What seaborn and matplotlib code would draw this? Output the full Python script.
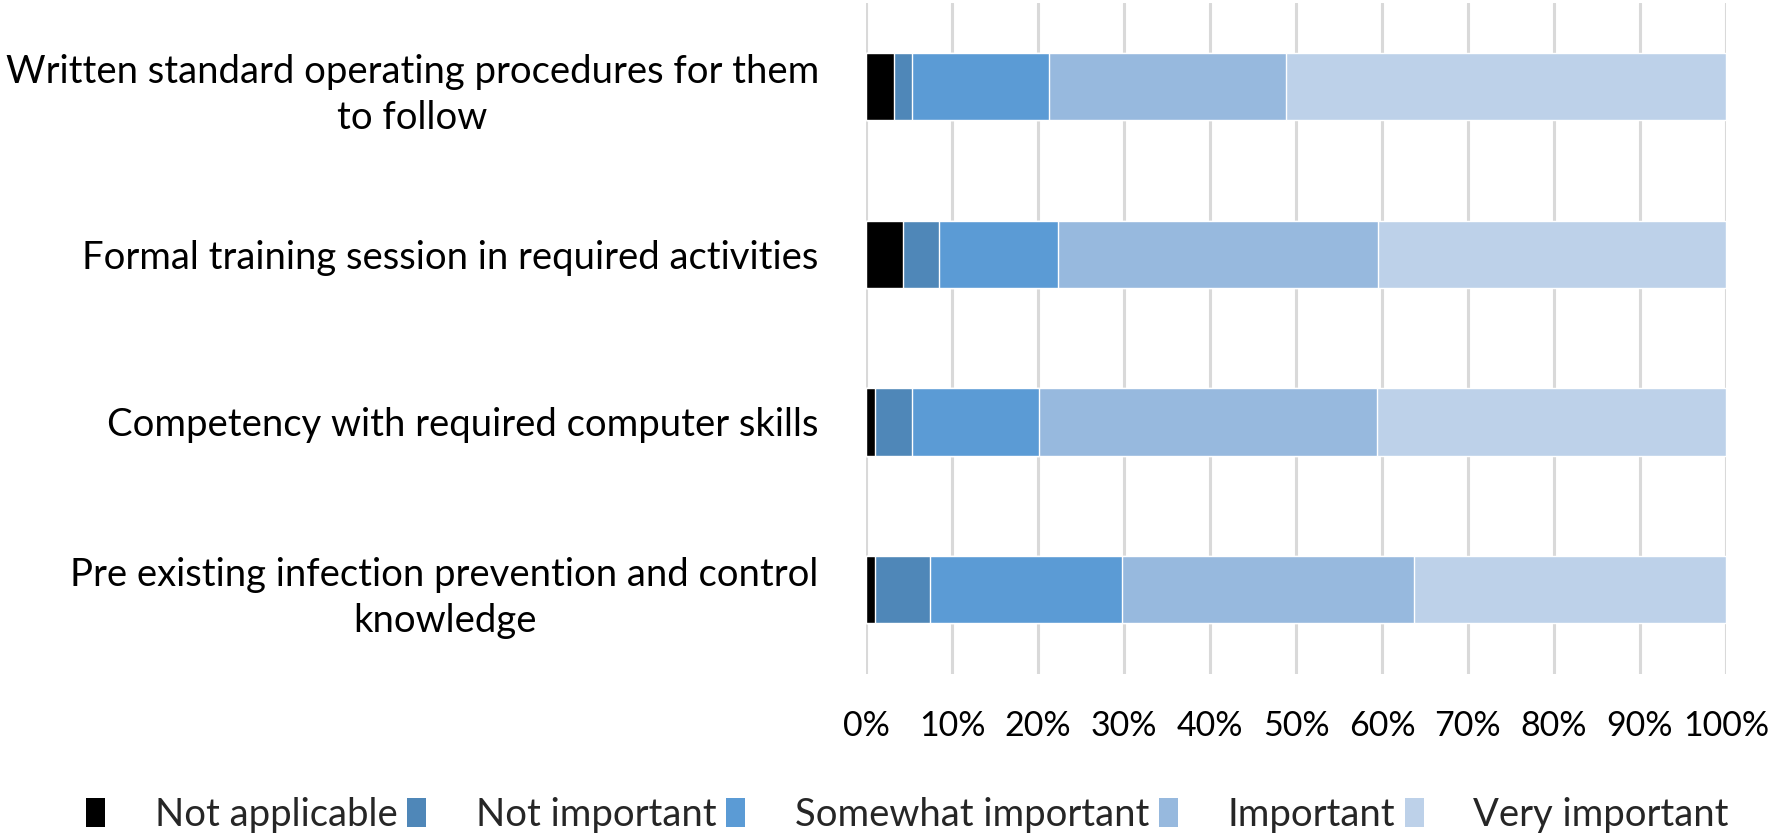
import pandas as pd
import seaborn as sns
import matplotlib.pyplot as plt
from matplotlib.patches import Patch
from matplotlib.ticker import PercentFormatter

# --- Data (percent of respondents) ---
ITEMS = [
    "Written standard operating procedures for them\nto follow",
    "Formal training session in required activities",
    "Competency with required computer skills",
    "Pre existing infection prevention and control\nknowledge",
]
LEVELS = ["Not applicable", "Not important", "Somewhat important",
          "Important", "Very important"]
NOT_APPLICABLE = [3.3, 4.3, 1.0, 1.0]
NOT_IMPORTANT = [2.1, 4.2, 4.3, 6.5]
SOMEWHAT_IMPORTANT = [15.9, 13.8, 14.8, 22.3]
IMPORTANT = [27.5, 37.2, 39.3, 33.9]
VERY_IMPORTANT = [51.2, 40.5, 40.6, 36.3]
X_TICKS = list(range(0, 101, 10))

COLORS = ["#000000", "#4f87b8", "#5b9bd5", "#97b9de", "#bdd1e9"]
FONT = "Lato"
FS_LABEL = 27.5
FS_TICK = 24.5

df = pd.DataFrame({
    "item": ITEMS,
    LEVELS[0]: NOT_APPLICABLE,
    LEVELS[1]: NOT_IMPORTANT,
    LEVELS[2]: SOMEWHAT_IMPORTANT,
    LEVELS[3]: IMPORTANT,
    LEVELS[4]: VERY_IMPORTANT,
})
cum = df[LEVELS].cumsum(axis=1)
cum["item"] = df["item"]

sns.set_theme(style="white")
plt.rcParams["font.family"] = [FONT, "DejaVu Sans"]

fig = plt.figure(figsize=(17.76, 8.4), dpi=100)
ax = fig.add_axes([0.4876, 0.198, 0.4842, 0.799])

# stacked bars: draw cumulative totals from the widest down
for level, color in reversed(list(zip(LEVELS, COLORS))):
    sns.barplot(data=cum, x=level, y="item", orient="h", color=color,
                width=0.4, saturation=1, ax=ax, zorder=3)

ax.set_xlim(0, 100)
ax.set_xticks(X_TICKS)
ax.xaxis.set_major_formatter(PercentFormatter(decimals=0))
ax.grid(axis="x", color="#d9d9d9", linewidth=2.2, zorder=0)
ax.set_axisbelow(True)
for s in ax.spines.values():
    s.set_visible(False)
ax.set_xlabel("")
ax.set_ylabel("")
ax.tick_params(axis="x", length=0, pad=26, labelsize=FS_TICK, colors="black")
ax.tick_params(axis="y", length=0, pad=34, labelsize=FS_LABEL, colors="black")
for lab in ax.get_yticklabels():
    lab.set_multialignment("center")
    lab.set_linespacing(1.35)

handles = [Patch(facecolor=c, edgecolor="none") for c in COLORS]
fig.legend(handles, LEVELS, loc="center", bbox_to_anchor=(0.511, 0.03),
           ncol=5, frameon=False, fontsize=FS_LABEL, handlelength=0.5,
           handleheight=0.8, handletextpad=1.3, columnspacing=0.25)

fig.savefig("out.png", dpi=100)
plt.close(fig)
